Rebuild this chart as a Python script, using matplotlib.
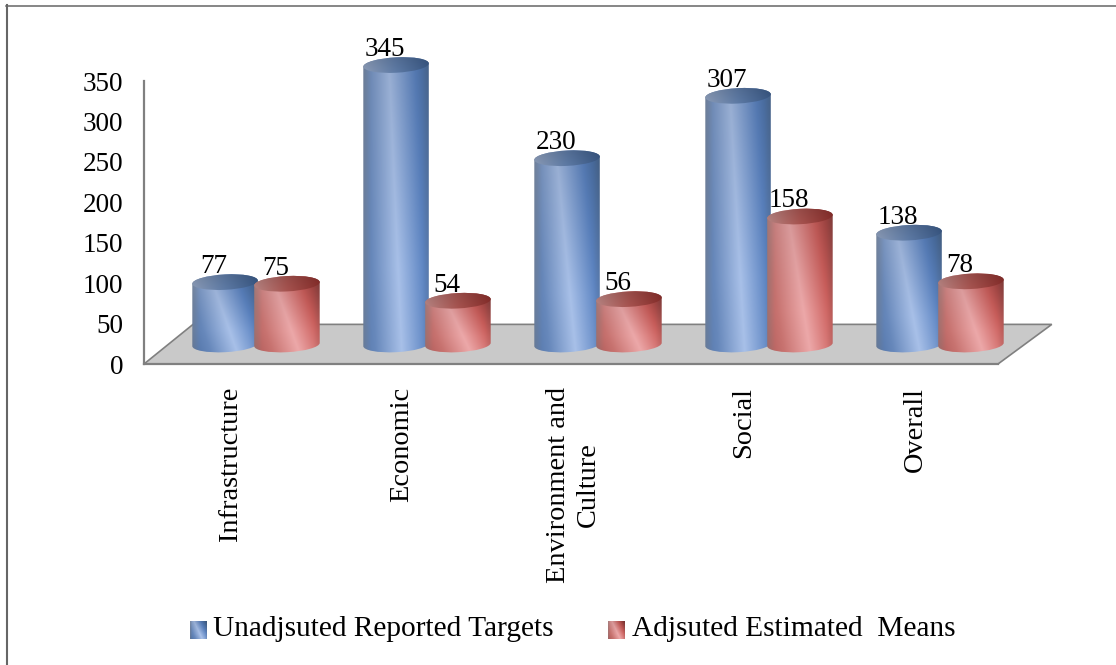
import numpy as np
import matplotlib
matplotlib.use("Agg")
import matplotlib.pyplot as plt
from matplotlib.colors import to_rgb
from matplotlib.image import BboxImage
from matplotlib.legend_handler import HandlerBase
from matplotlib.lines import Line2D
from matplotlib.patches import Patch, PathPatch, Polygon
from matplotlib.path import Path
from matplotlib.transforms import Bbox, TransformedBbox

categories = ["Infrastructure", "Economic", "Environment and\nCulture", "Social", "Overall"]
unadjusted = [77, 345, 230, 307, 138]
adjusted = [75, 54, 56, 158, 78]
series_names = ["Unadjsuted Reported Targets", "Adjsuted Estimated  Means"]
y_ticks = [0, 50, 100, 150, 200, 250, 300, 350]

W, H = 1116, 665
plt.rcParams["font.family"] = ["Liberation Serif", "DejaVu Serif"]

BLUE_BODY = ["#46699e", "#6788bb", "#a8c0e8", "#5c84c2", "#37587f"]
RED_BODY = ["#a85250", "#c87370", "#eca8a9", "#cc5f5c", "#7a2a28"]
BLUE_CAP = ["#8b9cb8", "#5e7ba6", "#3b5a87"]
RED_CAP = ["#b98583", "#a85450", "#8a2f2c"]
BODY_STOPS = [-0.3, 0.1, 0.5, 0.9, 1.3]
TALLEST = max(unadjusted)


def px_axes(fig, left, right, top, bottom):
    """Add axes placed by pixel edges measured from the top-left corner."""
    return fig.add_axes([left / W, 1 - bottom / H, (right - left) / W, (bottom - top) / H])


def ramp(colors, stops, s):
    rgb = np.array([to_rgb(c) for c in colors])
    return np.stack([np.interp(s, stops, rgb[:, i]) for i in range(3)], axis=-1)


def body_image(colors, slant=0.5, n=80):
    u, v = np.meshgrid(np.linspace(0, 1, n), np.linspace(0, 1, n))
    img = ramp(colors, BODY_STOPS, u - slant * (v - 0.55))
    img = img * (0.9 + 0.1 * np.clip(v * 1.4, 0, 1))[..., None]
    # grey falloff along both rims of the cylinder
    left_rim = np.clip((0.12 - u) / 0.12, 0, 1)[..., None]
    right_rim = np.clip((u - 0.9) / 0.1, 0, 1)[..., None]
    img = img * (1 - 0.45 * left_rim) + 0.5 * 0.45 * left_rim
    return img * (1 - 0.15 * right_rim) + 0.4 * 0.15 * right_rim


def cap_image(colors, n=80):
    u, v = np.meshgrid(np.linspace(0, 1, n), np.linspace(0, 1, n))
    img = ramp(colors, [0, 0.5, 1], u)
    return img * (0.88 + 0.12 * v[..., None])


def cylinder(ax, x, value, width, ry, tilt, body, cap):
    """Draw a gradient cylinder whose elliptical ends lean up to the right by tilt."""
    rx = width / 2
    left, right = x - rx, x + rx
    kappa = 0.5523
    slope = tilt / rx

    def lean(points):
        pts = np.asarray(points, dtype=float)
        pts[:, 1] += slope * (pts[:, 0] - x)
        return pts

    verts = [
        (left, value), (left, 0),
        (left, -ry * kappa), (x - rx * kappa, -ry), (x, -ry),
        (x + rx * kappa, -ry), (right, -ry * kappa), (right, 0),
        (right, value),
        (right, value + ry * kappa), (x + rx * kappa, value + ry), (x, value + ry),
        (x - rx * kappa, value + ry), (left, value + ry * kappa), (left, value),
        (left, value),
    ]
    codes = [Path.MOVETO, Path.LINETO] + [Path.CURVE4] * 6 + [Path.LINETO] + [Path.CURVE4] * 6 + [Path.CLOSEPOLY]
    outline = PathPatch(Path(lean(verts), codes), fc="none", ec="none")
    ax.add_patch(outline)
    slant = 0.2 + 0.3 * (1 - value / TALLEST)
    pad = ry + tilt
    im = ax.imshow(body_image(body, slant), extent=(left, right, -pad, value + pad), aspect="auto",
                   interpolation="bilinear", zorder=3)
    im.set_clip_path(outline)
    circle = Path.unit_circle()
    lid_verts = circle.vertices * [rx, ry] + [x, value]
    lid = PathPatch(Path(lean(lid_verts), circle.codes), fc="none", ec="none")
    ax.add_patch(lid)
    im2 = ax.imshow(cap_image(cap), extent=(left, right, value - pad, value + pad), aspect="auto",
                    interpolation="bilinear", zorder=3)
    im2.set_clip_path(lid)


class GradientSquare(HandlerBase):
    def __init__(self, colors):
        super().__init__()
        self.colors = colors

    def create_artists(self, legend, orig, xdescent, ydescent, width, height, fontsize, trans):
        box = TransformedBbox(Bbox.from_bounds(-xdescent, -ydescent - 3.5, width, height), trans)
        art = BboxImage(box, data=body_image(self.colors), interpolation="bilinear")
        return [art]


fig = plt.figure(figsize=(W / 100, H / 100), dpi=100, facecolor="white")

# the figure frame only closes on its left and top sides
fig.add_artist(Line2D([6.5 / W, 6.5 / W], [0, 1 - 5 / H], transform=fig.transFigure,
                      color="#666666", lw=1.5))
fig.add_artist(Line2D([6 / W, 1], [1 - 5.5 / H, 1 - 5.5 / H], transform=fig.transFigure,
                      color="#666666", lw=1.1))

# value axis and floor sit on a frame shifted down-left from the cylinders
frame = px_axes(fig, 144, 998, 81, 364)
frame.set_xlim(0, 1)
frame.set_ylim(0, 350)
frame.patch.set_alpha(0)
for side in ("top", "right"):
    frame.spines[side].set_visible(False)
for side in ("left", "bottom"):
    frame.spines[side].set_color("#808080")
    frame.spines[side].set_linewidth(1.6)
frame.set_yticks(y_ticks)
frame.set_xticks([])
frame.tick_params(axis="y", length=0, pad=15, labelsize=19.5, labelcolor="black")
floor = Polygon([(0, 0), (1, 0), (1.063, 0.14), (0.0574, 0.14)], closed=True,
                transform=frame.transAxes, fc="#c9c9c9", ec="#808080", lw=1.2, clip_on=False, zorder=1)
frame.add_patch(floor)

# cylinders, one unit of x per category group; limits leave room for the elliptical ends
ax = px_axes(fig, 170.5, 1025.5, 344.5 - 370 * 0.81, 344.5 + 20 * 0.81)
ax.patch.set_alpha(0)
ax.axis("off")
width = 0.383
offset = 0.181
ry = 9.5
tilt = 2
for i, (a, b) in enumerate(zip(unadjusted, adjusted)):
    cylinder(ax, i - offset, a, width, ry, tilt, BLUE_BODY, BLUE_CAP)
    cylinder(ax, i + offset, b, width, ry, tilt, RED_BODY, RED_CAP)
ax.set_xlim(-0.5, 4.5)
ax.set_ylim(-20, 370)
for i, (a, b) in enumerate(zip(unadjusted, adjusted)):
    for xpos, val in ((i - offset, a), (i + offset, b)):
        ax.annotate(str(val), (xpos, val + ry), xytext=(-8, 1), textcoords="offset points",
                    ha="center", va="baseline", fontsize=19.5, color="black", annotation_clip=False, zorder=5)
    ax.annotate(categories[i], (i, 0), xytext=(-18, -30.5), textcoords="offset points", rotation=90,
                ha="center", va="top", multialignment="center", fontsize=20.4, color="black",
                linespacing=1.25, annotation_clip=False)

handles = [Patch(label=series_names[0]), Patch(label=series_names[1])]
leg = fig.legend(handles, series_names, loc="center", bbox_to_anchor=(572.5 / W, 1 - 629 / H),
                 ncol=2, frameon=False, fontsize=21.2, columnspacing=1.85, handlelength=0.55,
                 handleheight=0.55, handletextpad=0.25, borderaxespad=0, borderpad=0,
                 handler_map={handles[0]: GradientSquare(BLUE_BODY), handles[1]: GradientSquare(RED_BODY)})

fig.savefig("out.png", dpi=100)
